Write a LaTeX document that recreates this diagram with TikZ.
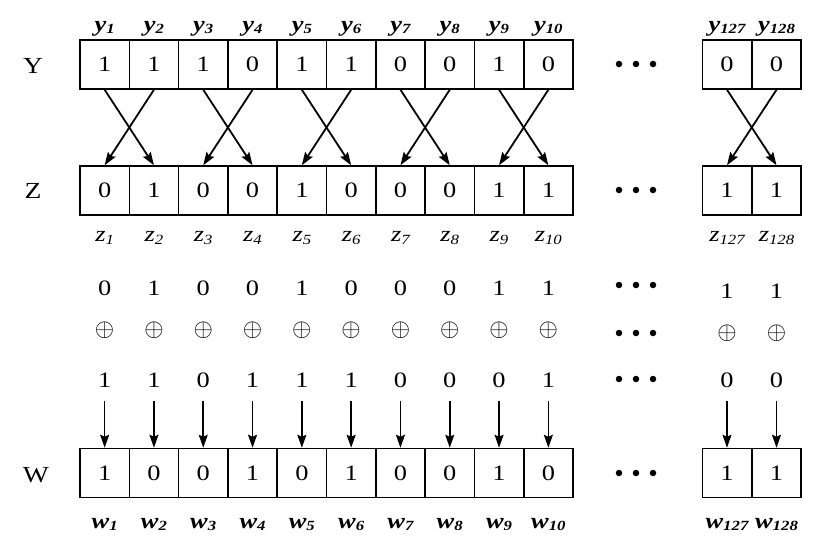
\documentclass[tikz,border=0pt]{standalone}
\usepackage{fontspec}
\setmainfont{Liberation Serif}[FakeStretch=1.2]
\usetikzlibrary{arrows.meta}
\newcommand{\blab}[2]{{\fontsize{22}{22}\selectfont\bfseries\itshape #1\raisebox{-2.5pt}{\fontsize{14}{14}\selectfont #2}}}
\newcommand{\ilab}[2]{{\fontsize{22}{22}\selectfont\itshape #1\raisebox{-2.5pt}{\fontsize{14}{14}\selectfont #2}}}
\begin{document}
\begin{tikzpicture}[x=1pt,y=-1pt,
  cell/.style={draw, line width=1.5pt, minimum width=49.4pt, minimum height=49pt, inner sep=0pt, font=\fontsize{22}{22}\selectfont},
  val/.style={anchor=base, inner sep=0pt, font=\fontsize{22}{22}\selectfont},
  opl/.style={inner sep=0pt, font=\fontsize{23}{23}\selectfont},
  lab/.style={anchor=base, inner sep=0pt},
  rowname/.style={inner sep=0pt, font=\fontsize{23}{23}\selectfont},
  crossarr/.style={line width=1.8pt, -{Stealth[length=13pt,width=9pt,inset=2pt]}},
  downarr/.style={line width=1.6pt, -{Stealth[length=13pt,width=9pt,inset=2pt]}},
  dot/.style={circle, fill, inner sep=0pt, minimum size=6.5pt}]
\useasboundingbox (0,0) rectangle (831,539);

% row names
\node[rowname] (nY) at (33,66) {Y};
\node[rowname] (nZ) at (33,191) {Z};
\node[rowname] (nW) at (36,475) {W};

% columns: name / x / Y / Z / A / B / W / shiftA
\foreach \n/\x/\vy/\vz/\va/\vb/\vw/\sa in {
  1/104.65/1/0/0/1/1/0,
  2/153.95/1/1/1/1/0/0,
  3/203.25/1/0/0/0/0/0,
  4/252.55/0/0/0/1/1/0,
  5/301.85/1/1/1/1/0/0,
  6/351.15/1/0/0/1/1/0,
  7/400.45/0/0/0/0/0/0,
  8/449.75/0/0/0/0/0/0,
  9/499.05/1/1/1/0/1/0,
  10/548.35/0/1/1/1/0/0,
  127/727/0/1/1/0/1/3,
  128/776.5/0/1/1/0/1/3}{
  \node[cell] (Y\n) at (\x,64.5) {\vy};
  \node[cell] (Z\n) at (\x,190.5) {\vz};
  \node[cell] (W\n) at (\x,473) {\vw};
  \node[lab] (ly\n) at (\x,31) {\blab{y}{\n}};
  \node[lab] (lz\n) at (\x,241.5) {\ilab{z}{\n}};
  \node[lab] (lw\n) at (\x,528) {\blab{w}{\n}};
  \node[val] (a\n) at (\x,295+\sa) {\va};
  \node[opl] (o\n) at (\x,330+\sa) {$\oplus$};
  \node[val] (b\n) at (\x,387) {\vb};
  \coordinate (s\n) at (\x,401);
  \draw[downarr] (s\n) -- (W\n.north);
}

% crossing arrows
\foreach \p/\q in {1/2,3/4,5/6,7/8,9/10,127/128}{
  \draw[crossarr] (Y\p.south) -- (Z\q.north);
  \draw[crossarr] (Y\q.south) -- (Z\p.north);
}

% ellipsis dots
\foreach \r/\yy in {1/64,2/190,3/285,4/333,5/379,6/473}{
  \node[dot] (d\r a) at (619,\yy) {};
  \node[dot] (d\r b) at (636,\yy) {};
  \node[dot] (d\r c) at (653,\yy) {};
}
\end{tikzpicture}
\end{document}
